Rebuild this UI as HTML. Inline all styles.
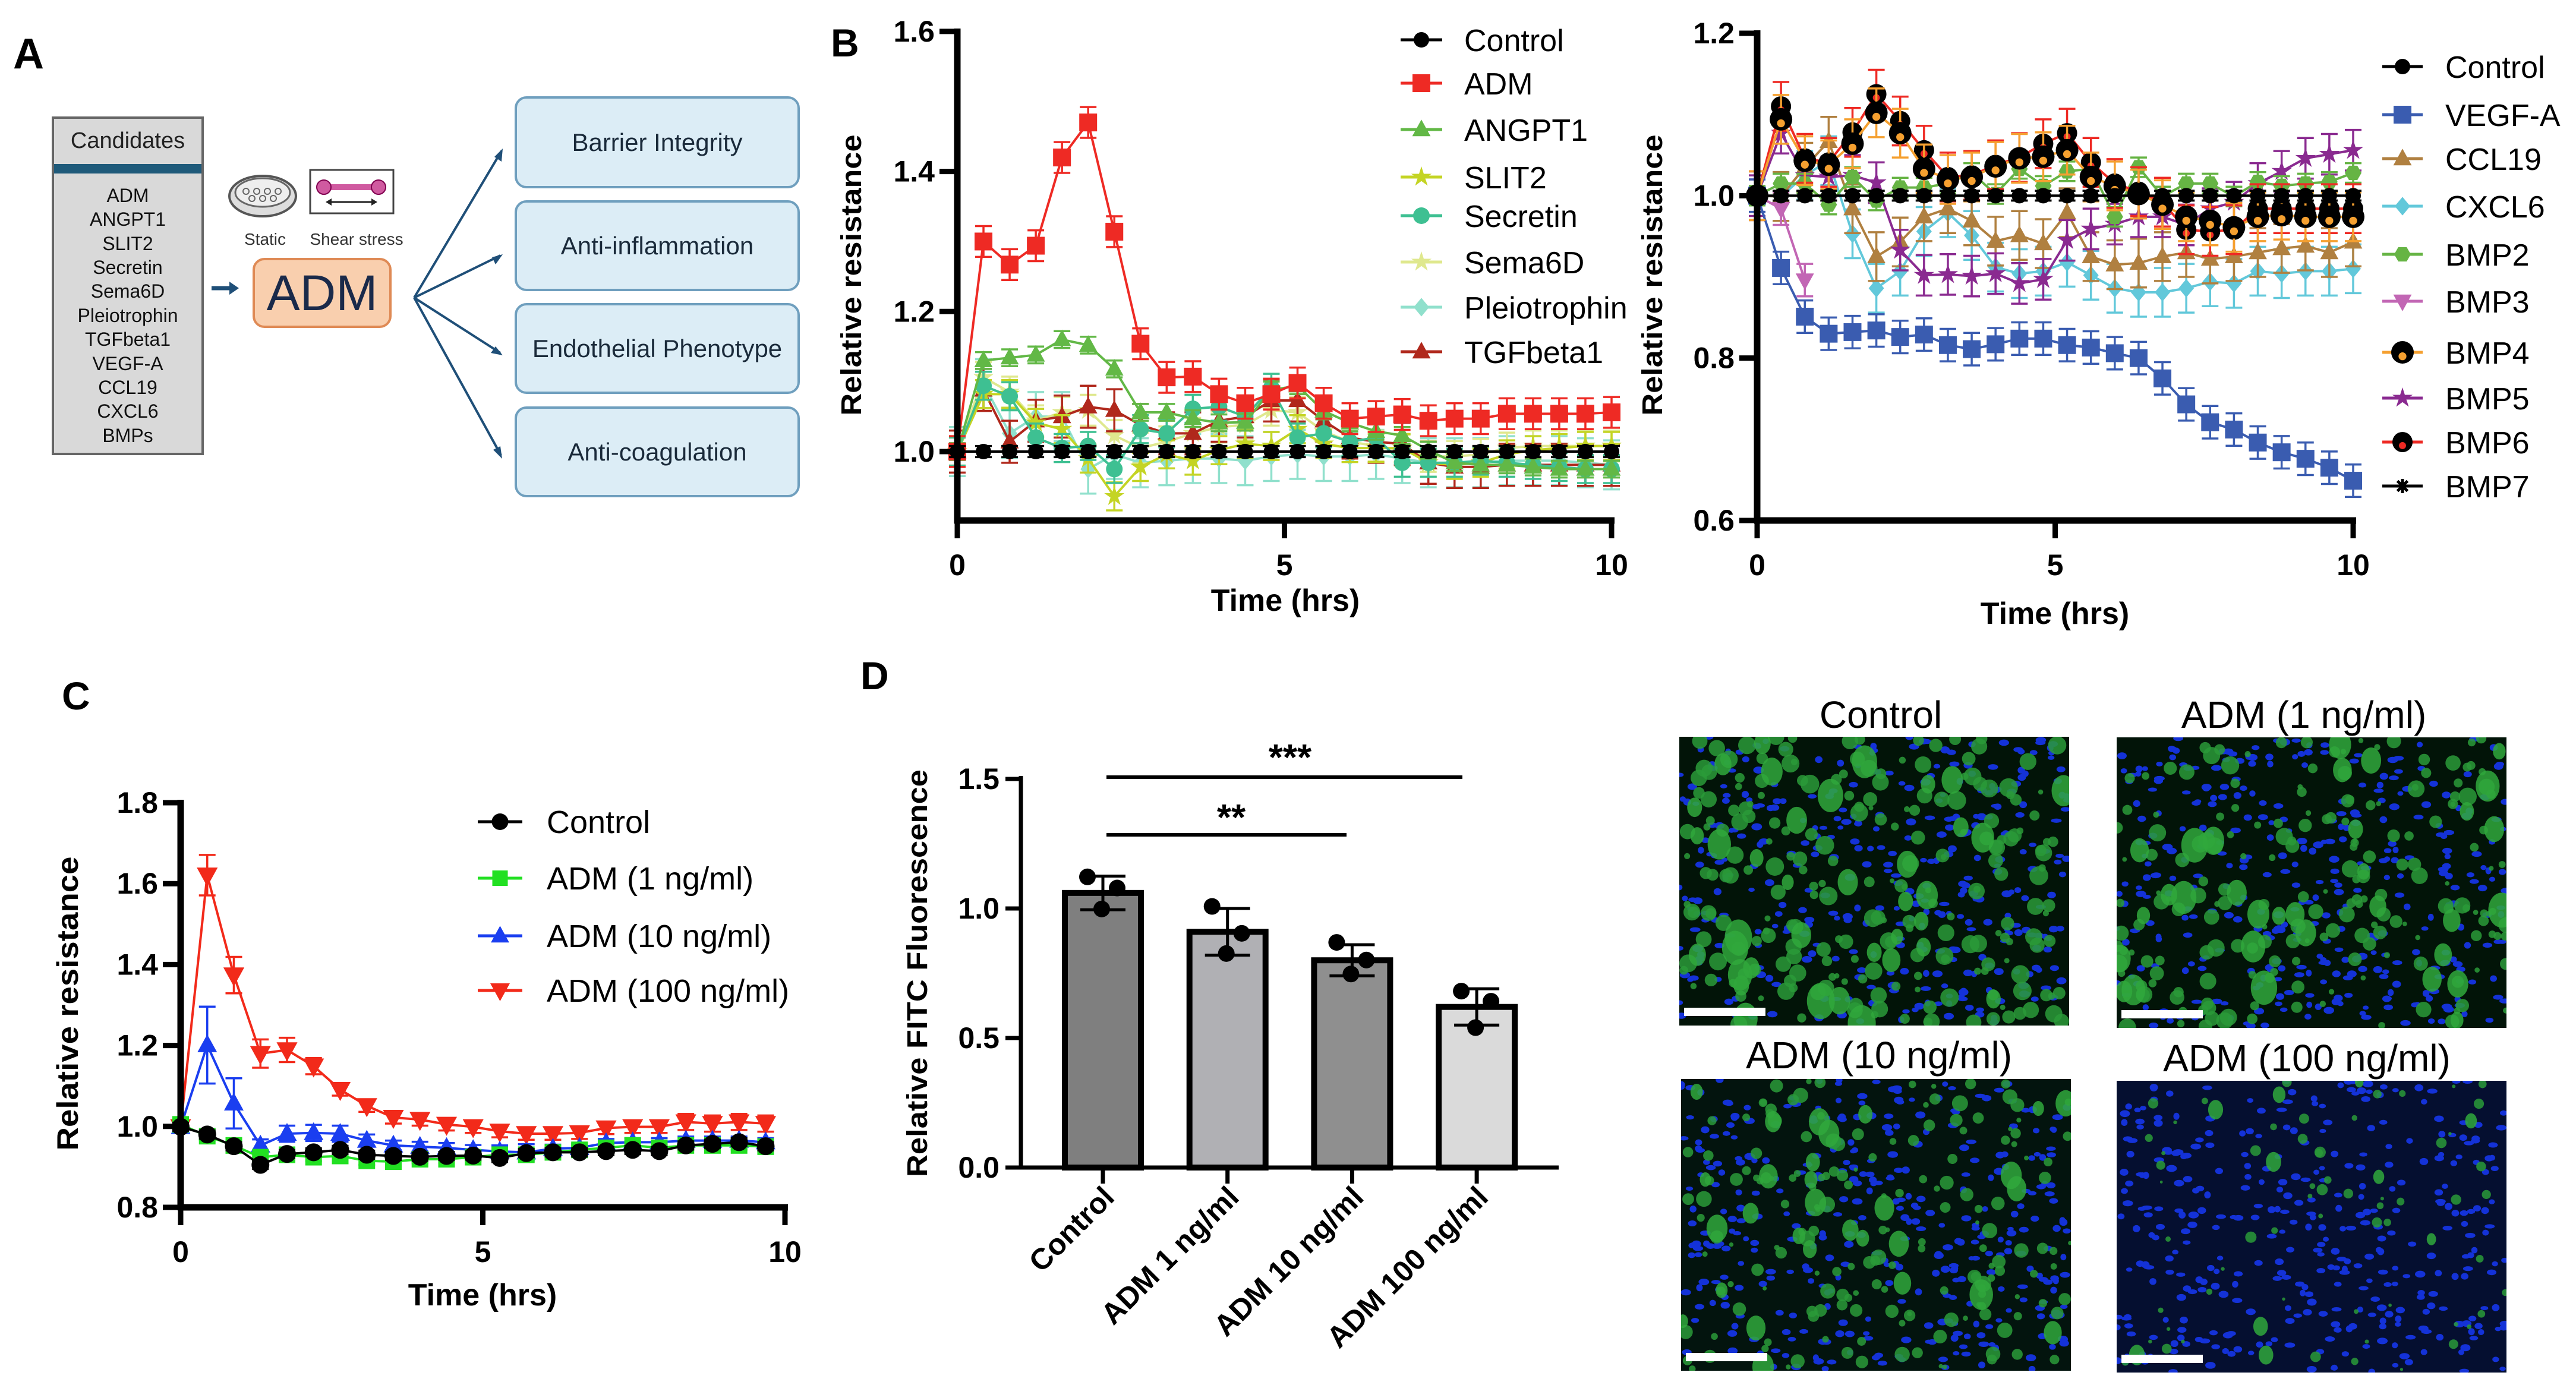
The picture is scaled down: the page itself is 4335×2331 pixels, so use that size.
<!DOCTYPE html>
<html><head><meta charset="utf-8"><style>
html,body{margin:0;padding:0;background:#fff;}
svg{display:block;font-family:"Liberation Sans",Arial,sans-serif;}
</style></head><body>
<svg id="fig" width="4335" height="2331" viewBox="0 0 4335 2331" xmlns="http://www.w3.org/2000/svg">
<!-- Panel A -->
<g font-family="'Liberation Sans',sans-serif">
  <text x="22" y="115" font-size="72" font-weight="bold">A</text>
  <rect x="89" y="198" width="252" height="566" fill="#d9d9d9" stroke="#666" stroke-width="4"/>
  <rect x="91" y="276" width="248" height="16" fill="#1f5a7a"/>
  <text x="215" y="249" font-size="38" text-anchor="middle" fill="#222">Candidates</text>
  <g font-size="32" text-anchor="middle" fill="#111">
    <text x="215" y="340">ADM</text><text x="215" y="380">ANGPT1</text><text x="215" y="421">SLIT2</text>
    <text x="215" y="461">Secretin</text><text x="215" y="501">Sema6D</text><text x="215" y="542">Pleiotrophin</text>
    <text x="215" y="582">TGFbeta1</text><text x="215" y="623">VEGF-A</text><text x="215" y="663">CCL19</text>
    <text x="215" y="703">CXCL6</text><text x="215" y="744">BMPs</text>
  </g>
  <g>
    <ellipse cx="442" cy="330" rx="56" ry="34" fill="#ddd" stroke="#555" stroke-width="4"/>
    <ellipse cx="442" cy="324" rx="46" ry="24" fill="#eee" stroke="#666" stroke-width="3"/>
    <g fill="none" stroke="#666" stroke-width="2"><circle cx="414" cy="322" r="5"/><circle cx="432" cy="322" r="5"/><circle cx="450" cy="322" r="5"/><circle cx="468" cy="322" r="5"/><circle cx="424" cy="334" r="5"/><circle cx="442" cy="334" r="5"/><circle cx="460" cy="334" r="5"/></g>
  </g>
  <g>
    <rect x="522" y="286" width="140" height="73" fill="#fff" stroke="#444" stroke-width="3"/>
    <rect x="545" y="310" width="92" height="10" fill="#d05aa0"/>
    <circle cx="545" cy="315" r="12" fill="#d05aa0" stroke="#800050" stroke-width="2"/>
    <circle cx="637" cy="315" r="12" fill="#d05aa0" stroke="#800050" stroke-width="2"/>
    <line x1="555" y1="340" x2="628" y2="340" stroke="#222" stroke-width="3"/>
    <path d="M548 340 l10 -6 v12z M635 340 l-10 -6 v12z" fill="#222"/>
  </g>
  <text x="446" y="412" font-size="28" text-anchor="middle" fill="#333">Static</text>
  <text x="600" y="412" font-size="28" text-anchor="middle" fill="#333">Shear stress</text>
  <rect x="427" y="436" width="230" height="114" rx="18" fill="#f9cfae" stroke="#df8a55" stroke-width="4"/>
  <text x="542" y="522" font-size="84" text-anchor="middle" fill="#1a2a4a">ADM</text>
  <g stroke="#1f4f78" stroke-width="4" fill="#1f4f78">
    <line x1="356" y1="485" x2="390" y2="485" stroke-width="7"/><path d="M402 485 l-16 -11 v22z" stroke="none"/>
    <line x1="697" y1="501" x2="844" y2="254"/><path d="M846 250 l-2 22 l-12 -8z" stroke="none"/>
    <line x1="697" y1="501" x2="842" y2="430"/><path d="M846 428 l-12 17 l-6 -12z" stroke="none"/>
    <line x1="697" y1="501" x2="842" y2="594"/><path d="M846 598 l-20 -4 l8 -11z" stroke="none"/>
    <line x1="697" y1="501" x2="843" y2="766"/><path d="M845 772 l-15 -15 l12 -6z" stroke="none"/>
  </g>
  <g fill="#dcedf6" stroke="#6f9fbe" stroke-width="4">
    <rect x="868" y="164" width="476" height="151" rx="18"/><rect x="868" y="339" width="476" height="149" rx="18"/>
    <rect x="868" y="512" width="476" height="149" rx="18"/><rect x="868" y="686" width="476" height="149" rx="18"/>
  </g>
  <g font-size="42" text-anchor="middle" fill="#1a2a3a">
    <text x="1106" y="254">Barrier Integrity</text>
    <text x="1106" y="428">Anti-inflammation</text>
    <text x="1106" y="601">Endothelial Phenotype</text>
    <text x="1106" y="775">Anti-coagulation</text>
  </g>
</g>
<g id="charts"></g>
<g id="micro"></g>
</svg>
<script>
// ---------- Panel B-left data ----------
const tB = [0,0.4,0.8,1.2,1.6,2.0,2.4,2.8,3.2,3.6,4.0,4.4,4.8,5.2,5.6,6.0,6.4,6.8,7.2,7.6,8.0,8.4,8.8,9.2,9.6,10.0];
const b1Names = ["Control","ADM","ANGPT1","SLIT2","Secretin","Sema6D","Pleiotrophin","TGFbeta1"];
const b1Control = tB.map(()=>1.0);
const b1ADM = [1.0,1.30,1.267,1.294,1.42,1.47,1.314,1.154,1.106,1.107,1.082,1.069,1.082,1.098,1.069,1.047,1.05,1.053,1.044,1.047,1.047,1.054,1.054,1.054,1.054,1.056];
const b1ANGPT1 = [1.0,1.13,1.134,1.138,1.16,1.152,1.118,1.056,1.056,1.047,1.041,1.042,1.088,1.094,1.058,1.041,1.029,1.023,1.002,0.984,0.981,0.981,0.978,0.975,0.975,0.975];
const b1SLIT2 = [1.0,1.082,1.082,1.041,1.032,0.99,0.936,0.978,0.996,0.987,1.002,1.011,1.008,1.032,1.011,1.005,1.005,1.005,0.984,0.981,0.984,0.996,1.002,1.005,1.008,1.008];
const b1Secretin = [1.0,1.094,1.079,1.02,1.005,1.008,0.975,1.032,1.026,1.061,1.064,1.05,1.091,1.02,1.026,1.014,1.02,0.984,0.984,0.984,0.987,0.984,0.981,0.978,0.975,0.975];
const b1Sema6D = [1.0,1.106,1.085,1.044,1.056,1.059,1.023,1.005,1.014,1.026,1.035,1.038,1.059,1.056,1.029,1.014,1.008,1.002,0.993,0.993,0.996,1.005,1.008,1.008,1.008,1.008];
const b1Pleio = [1.0,1.097,1.026,1.05,1.05,0.975,0.996,0.984,0.987,0.99,0.99,0.987,0.993,0.996,0.993,0.993,0.996,0.99,0.984,0.984,0.984,0.987,0.987,0.987,0.984,0.981];
const b1TGF = [1.0,1.088,1.014,1.044,1.05,1.064,1.059,1.038,1.026,1.026,1.044,1.05,1.073,1.073,1.044,1.02,1.014,1.011,0.984,0.978,0.978,0.981,0.981,0.981,0.981,0.981];
const b1Err = [0.008,0.022,0.012,0.02,0.02,0.022,0.035,0.03];
const b1Ticks = [1.0,1.2,1.4,1.6];
const xTicks = [0,5,10];

// ---------- Panel B-right data ----------
const b2Names = ["Control","VEGF-A","CCL19","CXCL6","BMP2","BMP3","BMP4","BMP5","BMP6","BMP7"];
const b2Control = tB.map(()=>1.0);
const b2VEGF = [1.0,0.911,0.851,0.830,0.832,0.834,0.826,0.829,0.816,0.811,0.817,0.824,0.824,0.816,0.813,0.806,0.800,0.775,0.743,0.721,0.712,0.696,0.684,0.676,0.665,0.649];
const b2CCL19 = [1.0,0.999,1.035,1.067,0.984,0.925,0.943,0.974,0.984,0.969,0.944,0.951,0.941,0.979,0.925,0.915,0.917,0.925,0.930,0.922,0.925,0.930,0.935,0.938,0.930,0.943];
const b2CXCL6 = [1.0,0.999,1.025,1.043,0.953,0.886,0.907,0.956,0.979,0.951,0.912,0.904,0.907,0.918,0.902,0.886,0.881,0.881,0.886,0.894,0.892,0.907,0.904,0.907,0.907,0.910];
const b2BMP2 = [1.0,1.015,1.015,0.989,1.023,0.994,1.010,1.010,1.015,1.028,1.002,1.033,1.012,1.030,1.033,0.974,1.035,0.999,1.015,1.015,0.999,1.017,1.012,1.015,1.017,1.028];
const b2BMP3 = [1.0,0.984,0.896];
const b2BMP4 = [1.0,1.094,1.043,1.038,1.064,1.102,1.077,1.033,1.020,1.023,1.036,1.046,1.048,1.056,1.023,1.012,1.002,0.989,0.974,0.969,0.961,0.974,0.976,0.974,0.974,0.974];
const b2BMP5 = [1.0,1.077,1.025,1.023,1.025,1.016,0.933,0.902,0.903,0.901,0.904,0.892,0.897,0.945,0.959,0.965,0.974,0.974,0.964,0.984,0.992,1.015,1.030,1.046,1.051,1.056];
const b2BMP6 = [1.0,1.110,1.046,1.041,1.078,1.125,1.092,1.056,1.023,1.025,1.038,1.047,1.064,1.077,1.041,1.015,1.005,0.992,0.958,0.956,0.958,0.984,0.984,0.984,0.984,0.984];
const b2BMP7 = tB.map(()=>1.0);
const b2Err = [0.006,0.02,0.03,0.03,0.012,0.02,0.03,0.025,0.03,0.006];
const b2Ticks = [0.6,0.8,1.0,1.2];

// ---------- Panel C data ----------
const tC = [0,0.44,0.88,1.32,1.76,2.2,2.64,3.08,3.52,3.96,4.4,4.84,5.28,5.72,6.16,6.6,7.04,7.48,7.92,8.36,8.8,9.24,9.68];
const cNames = ["Control","ADM (1 ng/ml)","ADM (10 ng/ml)","ADM (100 ng/ml)"];
const cControl = [0.999,0.980,0.951,0.905,0.932,0.936,0.942,0.930,0.927,0.925,0.927,0.928,0.922,0.934,0.936,0.936,0.939,0.942,0.939,0.953,0.957,0.961,0.951];
const cADM1 = [1.005,0.976,0.953,0.924,0.930,0.924,0.927,0.915,0.913,0.919,0.919,0.924,0.930,0.930,0.936,0.942,0.947,0.953,0.947,0.953,0.953,0.953,0.950];
const cADM10 = [0.999,1.201,1.057,0.953,0.982,0.984,0.982,0.965,0.953,0.950,0.947,0.942,0.938,0.936,0.945,0.947,0.959,0.961,0.961,0.965,0.965,0.965,0.961];
const cADM100 = [0.999,1.621,1.374,1.180,1.189,1.149,1.091,1.051,1.022,1.017,1.005,0.999,0.988,0.982,0.982,0.984,0.996,0.999,0.999,1.011,1.007,1.011,1.007];
const cErr10 = [0.01,0.095,0.062,0.015,0.02,0.02,0.02,0.015,0.012,0.012,0.012,0.012,0.015,0.02,0.01,0.01,0.01,0.01,0.01,0.01,0.01,0.01,0.01];
const cErr100 = [0.01,0.05,0.045,0.035,0.03,0.02,0.015,0.015,0.015,0.015,0.015,0.015,0.015,0.015,0.015,0.015,0.015,0.015,0.015,0.02,0.02,0.02,0.02];
const cTicks = [0.8,1.0,1.2,1.4,1.6,1.8];

// ---------- Panel D data ----------
const dCats = ["Control","ADM 1 ng/ml","ADM 10 ng/ml","ADM 100 ng/ml"];
const dMeans = [1.06,0.91,0.80,0.62];
const dSD = [0.065,0.09,0.06,0.07];
const dPts1 = [1.122,1.008,0.869,0.681];
const dPts2 = [1.079,0.904,0.801,0.642];
const dPts3 = [0.998,0.826,0.747,0.540];
const dTicks = [0.0,0.5,1.0,1.5];

const NS="http://www.w3.org/2000/svg";
const root=document.getElementById('charts');
function mk(tag,attrs,parent){const e=document.createElementNS(NS,tag);for(const k in attrs)e.setAttribute(k,attrs[k]);(parent||root).appendChild(e);return e;}
function txt(x,y,s,size,opts,parent){const e=mk('text',Object.assign({x:x,y:y,'font-size':size},opts||{}),parent);e.textContent=s;return e;}

function marker(g,shape,x,y,r,fill,stroke){
  let e;
  if(shape==='circle'){e=mk('circle',{cx:x,cy:y,r:r,fill:fill,stroke:stroke||'none','stroke-width':3},g);}
  else if(shape==='square'){e=mk('rect',{x:x-r,y:y-r,width:2*r,height:2*r,fill:fill},g);}
  else if(shape==='tri'){e=mk('path',{d:`M${x} ${y-r*1.2}L${x+r*1.1} ${y+r*0.8}L${x-r*1.1} ${y+r*0.8}Z`,fill:fill},g);}
  else if(shape==='tridown'){e=mk('path',{d:`M${x} ${y+r*1.2}L${x+r*1.1} ${y-r*0.8}L${x-r*1.1} ${y-r*0.8}Z`,fill:fill},g);}
  else if(shape==='diamond'){e=mk('path',{d:`M${x} ${y-r*1.2}L${x+r} ${y}L${x} ${y+r*1.2}L${x-r} ${y}Z`,fill:fill},g);}
  else if(shape==='hex'){let d='';for(let i=0;i<6;i++){const a=Math.PI/3*i;d+=(i?'L':'M')+(x+r*Math.cos(a))+' '+(y+r*Math.sin(a));}e=mk('path',{d:d+'Z',fill:fill},g);}
  else if(shape==='star'){let d='';for(let i=0;i<10;i++){const a=-Math.PI/2+Math.PI/5*i;const rr=i%2?r*0.45:r*1.2;d+=(i?'L':'M')+(x+rr*Math.cos(a))+' '+(y+rr*Math.sin(a));}e=mk('path',{d:d+'Z',fill:fill},g);}
  else if(shape==='aster'){e=mk('g',{stroke:fill,'stroke-width':5},g);for(let i=0;i<4;i++){const a=Math.PI/4*i;mk('line',{x1:x-r*Math.cos(a),y1:y-r*Math.sin(a),x2:x+r*Math.cos(a),y2:y+r*Math.sin(a)},e);}}
  else if(shape==='ring'){mk('circle',{cx:x,cy:y,r:r,fill:'#000'},g);e=mk('circle',{cx:x,cy:y+r*0.35,r:r*0.35,fill:fill},g);}
  return e;
}

function drawSeries(g,xs,ys,X,Y,color,shape,r,err,lw,mfill){
  let d='';xs.forEach((t,i)=>{if(i<ys.length)d+=(d?'L':'M')+X(t)+' '+Y(ys[i]);});
  const p=mk('path',{d:d,fill:'none',stroke:color,'stroke-width':lw||4},g);
  
  
  ys.forEach((v,i)=>{
    const e=Array.isArray(err)?err[i]:err;
    const x=X(xs[i]);
    if(e>0){const eg=mk('path',{d:`M${x} ${Y(v-e)}V${Y(v+e)}M${x-14} ${Y(v-e)}h28M${x-14} ${Y(v+e)}h28`,stroke:color,'stroke-width':3.5,fill:'none'},g);
      
      }
    const m=marker(g,shape,x,Y(v),r,mfill||color);
    
    
  });
}

function axes(g,x0,x1,yTop,yBot,X,Y,yt,ydec,xt){
  mk('line',{x1:x0,y1:yTop-5,x2:x0,y2:yBot+5,stroke:'#000','stroke-width':11},g);
  mk('line',{x1:x0-5,y1:yBot,x2:x1+5,y2:yBot,stroke:'#000','stroke-width':11},g);
  yt.forEach(v=>{const y=Y(v);mk('line',{x1:x0-30,y1:y,x2:x0,y2:y,stroke:'#000','stroke-width':9},g);
    const t=txt(x0-38,y+17,v.toFixed(ydec),50,{'font-weight':'bold','text-anchor':'end'},g);
    
    });
  xt.forEach(v=>{const x=X(v);mk('line',{x1:x,y1:yBot,x2:x,y2:yBot+30,stroke:'#000','stroke-width':9},g);
    const t=txt(x,yBot+92,String(v),50,{'font-weight':'bold','text-anchor':'middle'},g);
    
    });
}
function ytitle(g,x,y,s,len,size){const t=txt(0,0,s,size,{'font-weight':'bold','text-anchor':'middle',transform:`translate(${x},${y}) rotate(-90)`,textLength:len,lengthAdjust:'spacingAndGlyphs'},g);
  
  }
function xtitle(g,x,y,s){const t=txt(x,y,s,52,{'font-weight':'bold','text-anchor':'middle'},g);
  
  }
function legend(g,x0,x1,tx,ys,names,colors,shapes,rs,mfills,size){
  names.forEach((n,i)=>{const y=ys[i];
    mk('line',{x1:x0,y1:y,x2:x1,y2:y,stroke:colors[i],'stroke-width':5},g);
    marker(g,shapes[i],(x0+x1)/2,y,rs[i],mfills?mfills[i]:colors[i]);
    const t=txt(tx,y+19,n,size,{},g);
    
    });
}

// ===== Panel B left =====
{
  const g=mk('g',{});
  
  
  const X=t=>1611+t*110.1, Y=v=>760-(v-1)*1178.5;
  txt(1398,95,'B',66,{'font-weight':'bold'},g);
  const cols=['#000','#ee2a24','#62b846','#c4d424','#3ec092','#dfe88e','#90e0cc','#b0281c'];
  const shp=['circle','square','tri','star','circle','star','diamond','tri'];
  const rr=[13,15,14,15,14,15,13,14];
  const ser=[b1Control,b1ADM,b1ANGPT1,b1SLIT2,b1Secretin,b1Sema6D,b1Pleio,b1TGF];
  [6,5,7,3,4,2,1,0].forEach(i=>drawSeries(g,tB,ser[i],X,Y,cols[i],shp[i],rr[i],b1Err[i],4));
  axes(g,1611,2712,53,876,X,Y,b1Ticks,1,xTicks);
  ytitle(g,1449,463,'Relative resistance',473,48);
  xtitle(g,2163,1028,'Time (hrs)');
  legend(g,2357,2427,2464,[67,140,218,298,363,441,517,592],b1Names,cols,shp,rr,null,52);
}
// ===== Panel B right =====
{
  const g=mk('g',{});
  
  
  const X=t=>2957+t*100.3, Y=v=>876-(v-0.6)*1366.7;
  const cols=['#000','#3a5cb0','#b08040','#62c8da','#66b444','#c266b4','#f5a030','#8a2a90','#ee2a24','#000'];
  const shp=['circle','square','tri','diamond','hex','tridown','ring','star','ring','aster'];
  const rr=[13,15,14,13,14,14,19,15,17,12];
  const mf=['#000','#3a5cb0','#b08040','#62c8da','#66b444','#c266b4','#f5a030','#8a2a90','#ee2a24','#000'];
  const ser=[b2Control,b2VEGF,b2CCL19,b2CXCL6,b2BMP2,b2BMP3,b2BMP4,b2BMP5,b2BMP6,b2BMP7];
  [3,2,7,4,5,1,8,6,9,0].forEach(i=>drawSeries(g,tB,ser[i],X,Y,cols[i],shp[i],rr[i],b2Err[i],4,mf[i]));
  axes(g,2957,3960,56,876,X,Y,b2Ticks,1,xTicks);
  ytitle(g,2797,463,'Relative resistance',473,48);
  xtitle(g,3458,1050,'Time (hrs)');
  legend(g,4009,4077,4115,[112,193,267,347,428,507,593,670,744,818],b2Names,cols,shp,rr,mf,52);
}
// ===== Panel C =====
{
  const g=mk('g',{});
  
  
  const X=t=>304+t*101.7, Y=v=>2032-(v-0.8)*681;
  txt(104,1194,'C',66,{'font-weight':'bold'},g);
  drawSeries(g,tC,cADM100,X,Y,'#f22a1a','tridown',16,cErr100,4);
  drawSeries(g,tC,cADM10,X,Y,'#1a3ef0','tri',15,cErr10,4);
  drawSeries(g,tC,cADM1,X,Y,'#22e022','square',14,0.01,4);
  drawSeries(g,tC,cControl,X,Y,'#000','circle',15,0.01,4);
  axes(g,304,1321,1351,2032,X,Y,cTicks,1,xTicks);
  ytitle(g,131,1689,'Relative resistance',495,50);
  xtitle(g,812,2197,'Time (hrs)');
  legend(g,804,879,920,[1383,1478,1575,1667],cNames,['#000','#22e022','#1a3ef0','#f22a1a'],['circle','square','tri','tridown'],[14,13,14,15],null,54);
}
// ===== Panel D =====
{
  const g=mk('g',{});
  
  
  const Y=v=>1965-v*436;
  const X=i=>1856+i*209.7;
  const fills=['#7f7f7f','#b0b0b4','#8f8f8f','#dadada'];
  txt(1448,1160,'D',66,{'font-weight':'bold'},g);
  dMeans.forEach((m,i)=>{
    const r=mk('rect',{x:X(i)-64,y:Y(m),width:128,height:Y(0)-Y(m),fill:fills[i],stroke:'#000','stroke-width':10},g);
    
    
    const x=X(i);
    mk('path',{d:`M${x} ${Y(m-dSD[i])}V${Y(m+dSD[i])}M${x-38} ${Y(m-dSD[i])}h76M${x-38} ${Y(m+dSD[i])}h76`,stroke:'#000','stroke-width':5,fill:'none'},g);
    [[dPts1[i],-26],[dPts2[i],24],[dPts3[i],-2]].forEach(p=>{
      const c=mk('circle',{cx:x+p[1],cy:Y(p[0]),r:14,fill:'#000'},g);
      
      });
  });
  mk('line',{x1:1718,y1:1306,x2:1718,y2:1965,stroke:'#000','stroke-width':7},g);
  mk('line',{x1:1715,y1:1965,x2:2623,y2:1965,stroke:'#000','stroke-width':7},g);
  dTicks.forEach(v=>{const y=Y(v);mk('line',{x1:1692,y1:y,x2:1718,y2:y,stroke:'#000','stroke-width':7},g);
    const t=txt(1682,y+17,v.toFixed(1),50,{'font-weight':'bold','text-anchor':'end'},g);
    
    });
  dCats.forEach((c,i)=>{const x=X(i);mk('line',{x1:x,y1:1965,x2:x,y2:1992,stroke:'#000','stroke-width':7},g);
    const t=txt(0,0,c,50,{'font-weight':'bold','text-anchor':'end',transform:`translate(${x+22},${2018}) rotate(-45)`},g);
    
    });
  ytitle(g,1560,1638,'Relative FITC Fluorescence',686,48);
  mk('line',{x1:1862,y1:1308,x2:2461,y2:1308,stroke:'#000','stroke-width':6},g);
  mk('line',{x1:1862,y1:1405,x2:2266,y2:1405,stroke:'#000','stroke-width':6},g);
  txt(2171,1296,'***',62,{'font-weight':'bold','text-anchor':'middle'},g);
  txt(2072,1397,'**',62,{'font-weight':'bold','text-anchor':'middle'},g);
}
// ===== Microscopy images (decorative texture) =====
{
  const mg=document.getElementById('micro');
  let seed=7;const rnd=()=>{seed=(seed*16807)%2147483647;return seed/2147483647;};
  const imgs=[[2826,1240,656,486,'Control',220,'#021408',3165,1225,1.0],[3562,1241,656,489,'ADM (1 ng/ml)',190,'#021408',3877,1225,0.95],
              [2829,1816,656,491,'ADM (10 ng/ml)',170,'#03140e',3162,1798,0.85],[3562,1819,656,491,'ADM (100 ng/ml)',60,'#050f30',3882,1803,0.6]];
  imgs.forEach((im,k)=>{
    const [x,y,w,h,lab,ng,bg,tx,ty,sc]=im;
    const g=mk('g',{},mg);
    
    
    mk('rect',{x:x,y:y,width:w,height:h,fill:bg},g);
    const cp=mk('clipPath',{id:'cp'+k},g);mk('rect',{x:x,y:y,width:w,height:h},cp);
    const inner=mk('g',{'clip-path':`url(#cp${k})`},g);
    for(let i=0;i<360;i++){mk('ellipse',{cx:x+rnd()*w,cy:y+rnd()*h,rx:5+rnd()*4,ry:3.5+rnd()*2.5,fill:'#1432d8'},inner);}
    for(let i=0;i<ng;i++){const r=(4+rnd()*12)*sc;mk('circle',{cx:x+rnd()*w,cy:y+rnd()*h,r:r,fill:'#2a9a38','fill-opacity':0.85},inner);}
    for(let i=0;i<ng/6;i++){const r=(10+rnd()*14)*sc;mk('ellipse',{cx:x+rnd()*w,cy:y+rnd()*h,rx:r,ry:r*1.3,fill:'#30a83c','fill-opacity':0.85},inner);}
    mk('rect',{x:x+8,y:y+h-30,width:137,height:14,fill:'#fff'},g);
    const t=txt(tx,ty,lab,64,{'text-anchor':'middle'},mg);
    
    
  });
}
</script>
</body></html>
